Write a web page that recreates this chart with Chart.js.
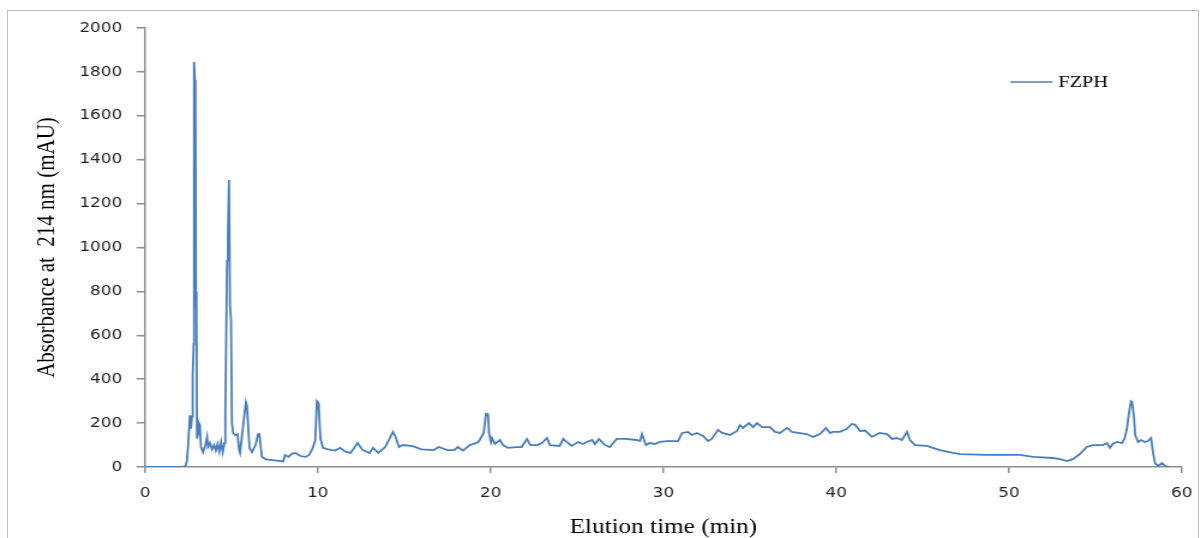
<!DOCTYPE html>
<html>
<head>
<meta charset="utf-8">
<script src="https://cdn.jsdelivr.net/npm/chart.js@4"></script>
<style>
  body { margin: 0; background: #fff; overflow: hidden; }
  #frame { position: absolute; left: 7px; top: 10px; width: 1190px; height: 600px; border: 1px solid #c0c0c0; }
  #wrap { position: absolute; left: 0; top: 0; width: 1001px; height: 538px; transform: scaleX(1.1998); transform-origin: 0 0; }
</style>
</head>
<body>
<div id="frame"></div>
<div id="wrap"><canvas id="chromChart"></canvas></div>
<script>
// elution time (min) and absorbance (mAU)
var elutionTime = [
    0, 2.2, 2.35, 2.43, 2.49, 2.55, 2.6, 2.66, 2.72, 2.76,
    2.82, 2.84, 2.89, 2.92, 2.95, 2.98, 3.01, 3.07, 3.12, 3.18,
    3.24, 3.36, 3.5, 3.59, 3.65, 3.76, 3.88, 4.0, 4.1, 4.2,
    4.3, 4.4, 4.5, 4.6, 4.65, 4.75, 4.8, 4.86, 4.92, 4.98,
    5.03, 5.1, 5.21, 5.35, 5.45, 5.5, 5.67, 5.84, 5.9, 5.96,
    6.05, 6.19, 6.4, 6.54, 6.62, 6.7, 6.77, 7.0, 7.5, 8.0,
    8.1, 8.3, 8.5, 8.7, 9.0, 9.3, 9.5, 9.7, 9.85, 9.95,
    10.05, 10.15, 10.3, 10.6, 11.0, 11.3, 11.6, 11.9, 12.3, 12.6,
    13.0, 13.2, 13.5, 13.9, 14.35, 14.5, 14.7, 14.9, 15.5, 16.0,
    16.7, 17.0, 17.5, 17.9, 18.1, 18.4, 18.8, 19.3, 19.6, 19.73,
    19.85, 19.91, 20.02, 20.08, 20.25, 20.54, 20.72, 21.0, 21.5, 21.8,
    22.1, 22.3, 22.7, 22.97, 23.26, 23.44, 24.0, 24.2, 24.4, 24.7,
    25.06, 25.35, 25.58, 25.87, 26.04, 26.27, 26.62, 26.9, 27.3, 27.8,
    28.47, 28.65, 28.76, 28.99, 29.2, 29.5, 29.8, 30.2, 30.85, 31.08,
    31.42, 31.65, 31.94, 32.3, 32.58, 32.8, 33.16, 33.4, 33.85, 34.26,
    34.43, 34.6, 34.95, 35.19, 35.42, 35.7, 36.17, 36.46, 36.75, 37.15,
    37.44, 37.8, 38.3, 38.66, 39.06, 39.41, 39.64, 39.8, 40.2, 40.6,
    40.9, 41.1, 41.38, 41.67, 42.07, 42.5, 42.94, 43.23, 43.5, 43.8,
    44.1, 44.27, 44.56, 45.25, 45.6, 46.0, 46.76, 47.16, 48.73, 49.5,
    50.64, 51.4, 52.55, 52.95, 53.36, 53.7, 54.1, 54.5, 54.86, 55.44,
    55.67, 55.84, 56.0, 56.25, 56.54, 56.7, 56.83, 56.94, 57.06, 57.12,
    57.23, 57.3, 57.47, 57.64, 57.87, 58.04, 58.22, 58.33, 58.45, 58.62,
    58.85, 59.03, 59.3
];
var absorbance = [
    0, 0, 5, 30, 90, 170, 236, 175, 230, 420,
    560, 1845, 1763, 1750, 800, 715, 130, 150, 200, 190,
    92, 68, 100, 137, 92, 110, 80, 100, 75, 105,
    70, 114, 68, 110, 246, 940, 1050, 1308, 738, 670,
    200, 155, 146, 150, 77, 64, 182, 296, 280, 200,
    87, 68, 100, 150, 150, 90, 46, 35, 30, 25,
    55, 46, 60, 64, 50, 46, 55, 85, 120, 300,
    290, 132, 87, 80, 75, 87, 70, 64, 109, 77,
    64, 87, 64, 91, 160, 137, 91, 100, 95, 80,
    77, 91, 77, 77, 91, 75, 100, 114, 155, 242,
    240, 155, 114, 132, 105, 123, 100, 87, 91, 91,
    128, 100, 100, 109, 132, 100, 96, 128, 114, 96,
    114, 105, 114, 123, 105, 128, 100, 91, 128, 128,
    123, 118, 150, 100, 109, 105, 114, 118, 118, 155,
    160, 146, 155, 141, 118, 128, 169, 155, 146, 164,
    191, 178, 200, 182, 200, 182, 182, 160, 155, 178,
    160, 155, 150, 137, 150, 178, 155, 160, 160, 173,
    196, 192, 164, 166, 137, 155, 150, 128, 132, 123,
    160, 123, 100, 96, 87, 77, 64, 59, 55, 55,
    55, 46, 41, 36, 27, 36, 59, 91, 100, 100,
    109, 87, 105, 114, 109, 132, 178, 246, 300, 296,
    228, 146, 114, 123, 114, 118, 132, 68, 18, 5,
    18, 5, 0
];
var seriesName = 'FZPH';
var xTitle = 'Elution time (min)';
var yTitle = 'Absorbance at  214 nm (mAU)';

var axisGray = '#8e8e8e';
var lineBlue = '#4a7ebb';

var points = elutionTime.map(function(t, i) {
    return { x: t, y: absorbance[i] };
});

// legend sits inside the plot, top right, like the original
var insideLegend = {
    id: 'insideLegend',
    afterDraw: function(chart) {
        var ctx = chart.ctx;
        var ds = chart.data.datasets[0];
        ctx.save();
        ctx.strokeStyle = ds.borderColor;
        ctx.lineWidth = 1.6;
        ctx.beginPath();
        ctx.moveTo(842, 82);
        ctx.lineTo(877, 82);
        ctx.stroke();
        ctx.fillStyle = '#000';
        ctx.font = '17px "Liberation Serif"';
        ctx.textBaseline = 'middle';
        ctx.fillText(ds.label, 882, 83);
        ctx.restore();
    }
};

// plain numbers, no thousands separator
function plainTick(value) {
    return String(value);
}

var ctx = document.getElementById('chromChart').getContext('2d');
var chromChart = new Chart(ctx, {
    type: 'line',
    data: {
        datasets: [{
            label: seriesName,
            data: points,
            borderColor: lineBlue,
            borderWidth: 1.8,
            pointRadius: 0,
            tension: 0,
            fill: false
        }]
    },
    options: {
        responsive: true,
        maintainAspectRatio: false,
        animation: false,
        layout: {
            padding: { left: 20, top: 28, right: 16, bottom: 0 }
        },
        plugins: {
            legend: { display: false },
            tooltip: { enabled: false }
        },
        scales: {
            x: {
                type: 'linear',
                min: 0,
                max: 60,
                // let the layout padding alone decide the right edge
                afterFit: function(scale) {
                    scale.paddingRight = 0;
                },
                border: { color: axisGray, width: 1.5 },
                grid: { drawOnChartArea: false, drawTicks: true, tickLength: 6, color: axisGray, lineWidth: 1.5 },
                ticks: {
                    stepSize: 10,
                    padding: 12,
                    color: '#222',
                    font: { family: 'DejaVu Sans', size: 14 },
                    callback: plainTick
                },
                title: {
                    display: true,
                    text: xTitle,
                    color: '#000',
                    font: { family: 'Liberation Serif', size: 21 },
                    padding: { top: 1, bottom: -2 }
                }
            },
            y: {
                min: 0,
                max: 2000,
                border: { color: axisGray, width: 1.5 },
                grid: { drawOnChartArea: false, drawTicks: true, tickLength: 7, color: axisGray, lineWidth: 1.5 },
                ticks: {
                    stepSize: 200,
                    padding: 12,
                    color: '#222',
                    font: { family: 'DejaVu Sans', size: 14 },
                    callback: plainTick
                },
                title: {
                    display: true,
                    text: yTitle,
                    color: '#000',
                    font: { family: 'Liberation Serif', size: 21 },
                    padding: { top: 6.4, bottom: 2.6 }
                }
            }
        }
    },
    plugins: [insideLegend]
});
</script>
</body>
</html>
